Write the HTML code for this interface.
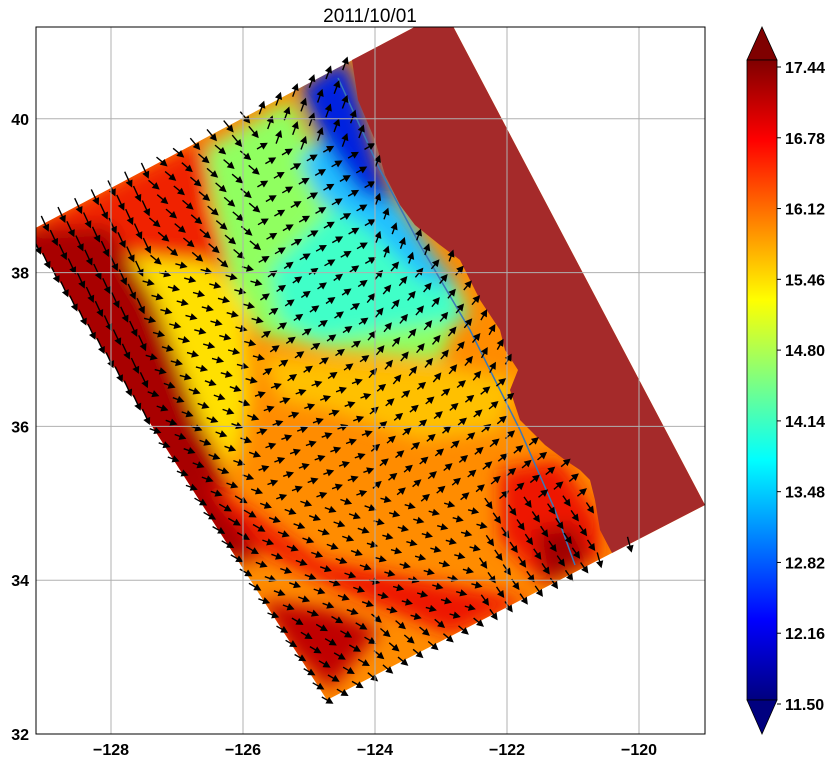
<!DOCTYPE html>
<html><head><meta charset="utf-8"><style>
body{margin:0;background:#fff;font-family:"Liberation Sans",sans-serif;}
svg text{font-family:"Liberation Sans",sans-serif;}
</style></head><body>
<svg id="chart" width="840" height="763" viewBox="0 0 840 763" xmlns="http://www.w3.org/2000/svg">
<defs>
<filter id="blur" x="-20%" y="-20%" width="140%" height="140%"><feGaussianBlur stdDeviation="9"/></filter>
<clipPath id="axclip"><rect x="36" y="27" width="669" height="707"/></clipPath>
<clipPath id="domclip"><polygon points="28,232 445,11 705,505 327,700"/></clipPath>
<linearGradient id="jet" x1="0" y1="1" x2="0" y2="0">
<stop offset="0" stop-color="#00007f"/><stop offset="0.125" stop-color="#0000ff"/><stop offset="0.375" stop-color="#00ffff"/><stop offset="0.625" stop-color="#ffff00"/><stop offset="0.875" stop-color="#ff0000"/><stop offset="1" stop-color="#7f0000"/>
</linearGradient>
</defs>
<text x="370" y="22" font-size="19" text-anchor="middle">2011/10/01</text>
<g clip-path="url(#axclip)">
<g clip-path="url(#domclip)">
<rect x="0" y="0" width="840" height="763" fill="#ff8c00"/>
<g filter="url(#blur)">
<polygon fill="#f02000" points="20,232 140,170 230,128 275,105 250,150 205,200 230,265 150,290 110,250"/>
<polygon fill="#ffe000" points="120,255 210,262 245,300 250,400 235,470 200,420 160,330"/>
<polygon fill="#90ff60" points="205,150 290,100 330,180 420,240 465,300 440,360 330,350 260,335 230,280 215,210"/>
<polygon fill="#40ffc8" points="270,270 330,210 400,230 440,270 470,320 420,325 320,340 280,320"/>
<polygon fill="#20c0ff" points="300,160 340,120 390,190 430,250 460,290 420,280 370,230 320,200"/>
<polygon fill="#0020e0" points="300,88 345,58 360,100 378,165 395,205 360,195 330,155 312,120"/>
<polygon fill="#ffc000" points="260,355 340,360 440,365 520,380 500,430 420,440 330,410 280,400"/>
<polygon fill="#a80000" points="0,232 110,225 155,300 200,420 235,510 260,560 200,560"/>
<polygon fill="#ee1500" points="200,480 260,550 340,590 450,635 530,600 420,580 320,560 250,510"/>
<polygon fill="#ee1500" points="500,470 560,460 600,520 600,560 540,580 500,540"/>
<polygon fill="#a00000" points="535,530 575,525 590,560 545,585"/>
<polygon fill="#c00000" points="260,600 330,610 380,630 330,690 290,650"/>
</g>
</g>
<polygon fill="#a52a2a" points="352,60 358,100 375,140 385,175 400,205 415,225 440,245 460,260 470,280 480,300 490,315 500,330 505,350 518,370 510,390 520,420 545,445 565,460 580,470 590,480 595,500 600,530 612,553 705,505 445,11"/>
<polyline fill="none" stroke="#3a78b8" stroke-width="1.5" points="338,78 380,170 420,245 470,330 520,430 555,510 575,565"/>
<g id="arrows"></g>
</g>
<g id="grid" stroke="#b0b0b0" stroke-width="1"></g>
<rect x="36" y="27" width="669" height="707" fill="none" stroke="#000" stroke-width="1"/>
<g id="ticks" font-size="16" font-weight="bold"></g>
<g>
<polygon points="747,60 762,27 777,60" fill="#7f0000" stroke="#000" stroke-width="0.8"/>
<rect x="747" y="60" width="30" height="640" fill="url(#jet)" stroke="#000" stroke-width="0.8"/>
<polygon points="747,700 762,734 777,700" fill="#00007f" stroke="#000" stroke-width="0.8"/>
<g id="cbticks" font-size="16" font-weight="bold"></g>
</g>
</svg>
<script>
const xTicks = [-128, -126, -124, -122, -120];
const yTicks = [32, 34, 36, 38, 40];
const cbTicks = ["11.50","12.16","12.82","13.48","14.14","14.80","15.46","16.12","16.78","17.44"];
// coarse flow direction (screen degrees, 0=east, positive=down) by 6x6 region
const angleRows = [
 [60, 50, -70, -85, -90, -90],
 [65, 40, -30, -70, -80, -80],
 [65, 15, -35, -50, -60, -70],
 [65, 20, -20, -40, -40, 70],
 [60, 30, 20, 15, 55, 75],
 [60, 30, 30, 40, 65, 75]
];
const speedRows = [
 [16, 14, 13, 13, 13, 13],
 [16, 13, 11, 11, 11, 11],
 [16, 11, 10, 11, 11, 11],
 [16, 11, 10, 10, 11, 13],
 [15, 13, 11, 10, 12, 15],
 [14, 13, 12, 12, 14, 16]
];
const NS="http://www.w3.org/2000/svg";
const xs = lon => 111 + (lon + 128) * 66;
const ys = lat => 734 - (lat - 32) * 76.9;
const cbY = v => 704 - (v - 11.50) / (17.44 - 11.50) * 637;
const grid=document.getElementById('grid'), ticks=document.getElementById('ticks');
xTicks.forEach(v=>{
 const l=document.createElementNS(NS,'line');
 
 
 l.setAttribute('x1',xs(v));l.setAttribute('x2',xs(v));l.setAttribute('y1',27);l.setAttribute('y2',734);grid.appendChild(l);
 const t=document.createElementNS(NS,'text');
 
 
 t.setAttribute('x',xs(v));t.setAttribute('y',755);t.setAttribute('text-anchor','middle');t.textContent='\u2212'+Math.abs(v);ticks.appendChild(t);
});
yTicks.forEach(v=>{
 const l=document.createElementNS(NS,'line');
 
 
 l.setAttribute('x1',36);l.setAttribute('x2',705);l.setAttribute('y1',ys(v));l.setAttribute('y2',ys(v));grid.appendChild(l);
 const t=document.createElementNS(NS,'text');
 
 
 t.setAttribute('x',29);t.setAttribute('y',ys(v)+6);t.setAttribute('text-anchor','end');t.textContent=v;ticks.appendChild(t);
});
const cbt=document.getElementById('cbticks');
cbTicks.forEach(s=>{
 const y=cbY(parseFloat(s));
 const l=document.createElementNS(NS,'line');
 
 
 l.setAttribute('x1',777);l.setAttribute('x2',781);l.setAttribute('y1',y);l.setAttribute('y2',y);l.setAttribute('stroke','#000');cbt.appendChild(l);
 const t=document.createElementNS(NS,'text');
 
 
 t.setAttribute('x',785);t.setAttribute('y',y+6);t.textContent=s;cbt.appendChild(t);
});
// arrows
const land=[[352,60],[358,100],[375,140],[385,175],[400,205],[415,225],[440,245],[460,260],[470,280],[480,300],[490,315],[500,330],[505,350],[518,370],[510,390],[520,420],[545,445],[565,460],[580,470],[590,480],[595,500],[600,530],[612,553],[720,497],[455,0]];
function inside(p,poly){let c=false;for(let i=0,j=poly.length-1;i<poly.length;j=i++){const a=poly[i],b=poly[j];if(((a[1]>p[1])!=(b[1]>p[1]))&&(p[0]<(b[0]-a[0])*(p[1]-a[1])/(b[1]-a[1])+a[0]))c=!c;}return c;}
const BL=[327,700],BR=[705,505],TR=[445,11],TL=[28,232];
const ag=document.getElementById('arrows');
const NI=25,NJ=33;
for(let i=0;i<=NI;i++)for(let j=0;j<=NJ;j++){
 const s=i/NI,t=j/NJ;
 const x=(1-s)*(1-t)*BL[0]+s*(1-t)*BR[0]+s*t*TR[0]+(1-s)*t*TL[0];
 const y=(1-s)*(1-t)*BL[1]+s*(1-t)*BR[1]+s*t*TR[1]+(1-s)*t*TL[1];
 if(inside([x,y],land)||inside([x+3,y],land)||(x>640&&inside([x,y-6],land)))continue;
 if(x<30||y<20)continue;
 const ci=Math.min(5,Math.max(0,Math.floor((x-36)/111.5))), ri=Math.min(5,Math.max(0,Math.floor((y-27)/118)));
 const a=angleRows[ri][ci]*Math.PI/180, L=speedRows[ri][ci];
 const dx=Math.cos(a),dy=Math.sin(a);
 const x0=x-dx*L/2,y0=y-dy*L/2,x1=x+dx*L/2,y1=y+dy*L/2;
 const hx=x1-dx*5,hy=y1-dy*5,px=-dy*2.6,py=dx*2.6;
 const p=document.createElementNS(NS,'path');
 
 
 p.setAttribute('d',`M${x0.toFixed(1)},${y0.toFixed(1)}L${hx.toFixed(1)},${hy.toFixed(1)}M${(hx+px).toFixed(1)},${(hy+py).toFixed(1)}L${x1.toFixed(1)},${y1.toFixed(1)}L${(hx-px).toFixed(1)},${(hy-py).toFixed(1)}Z`);
 p.setAttribute('stroke','#000');p.setAttribute('stroke-width','1.4');p.setAttribute('fill','#000');
 ag.appendChild(p);
}
</script>
</body></html>
